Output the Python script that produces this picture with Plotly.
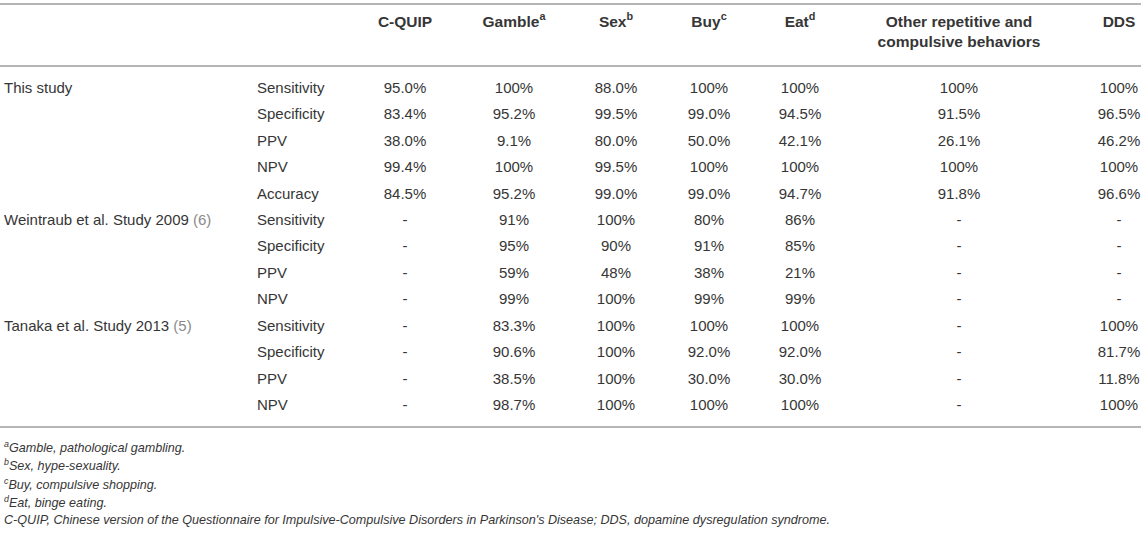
import plotly.graph_objects as go

# Table contents
headers = ["C-QUIP", "Gamble<sup>a</sup>", "Sex<sup>b</sup>", "Buy<sup>c</sup>",
           "Eat<sup>d</sup>", "Other repetitive and<br>compulsive behaviors", "DDS"]
studies = ["This study", "", "", "", "",
           "Weintraub et al. Study 2009 <span style='color:#8a8a8a'>(6)</span>", "", "", "",
           "Tanaka et al. Study 2013 <span style='color:#8a8a8a'>(5)</span>", "", "", ""]
metrics = ["Sensitivity", "Specificity", "PPV", "NPV", "Accuracy",
           "Sensitivity", "Specificity", "PPV", "NPV",
           "Sensitivity", "Specificity", "PPV", "NPV"]

c_quip = ["95.0%", "83.4%", "38.0%", "99.4%", "84.5%", "-", "-", "-", "-", "-", "-", "-", "-"]
gamble = ["100%", "95.2%", "9.1%", "100%", "95.2%", "91%", "95%", "59%", "99%",
          "83.3%", "90.6%", "38.5%", "98.7%"]
sex = ["88.0%", "99.5%", "80.0%", "99.5%", "99.0%", "100%", "90%", "48%", "100%",
       "100%", "100%", "100%", "100%"]
buy = ["100%", "99.0%", "50.0%", "100%", "99.0%", "80%", "91%", "38%", "99%",
       "100%", "92.0%", "30.0%", "100%"]
eat = ["100%", "94.5%", "42.1%", "100%", "94.7%", "86%", "85%", "21%", "99%",
       "100%", "92.0%", "30.0%", "100%"]
other = ["100%", "91.5%", "26.1%", "100%", "91.8%", "-", "-", "-", "-", "-", "-", "-", "-"]
dds = ["100%", "96.5%", "46.2%", "100%", "96.6%", "-", "-", "-", "-",
       "100%", "81.7%", "11.8%", "100%"]

footnotes = [
    "<sup>a</sup>Gamble, pathological gambling.",
    "<sup>b</sup>Sex, hype-sexuality.",
    "<sup>c</sup>Buy, compulsive shopping.",
    "<sup>d</sup>Eat, binge eating.",
    "C-QUIP, Chinese version of the Questionnaire for Impulsive-Compulsive Disorders "
    "in Parkinson's Disease; DDS, dopamine dysregulation syndrome.",
]

# Layout in page pixels (axes map 1:1 onto the page)
W, H = 1145, 536
col_x = [405, 514, 616, 709, 800, 959, 1119]
row_y0, row_step = 89, 26.45
rows_y = [row_y0 + i * row_step for i in range(len(metrics))]
text_color = "#363636"
family = "Liberation Sans, Arial, sans-serif"
font = dict(family=family, size=15, color=text_color)

fig = go.Figure()

# study and metric labels (left aligned)
fig.add_trace(go.Scatter(x=[4] * len(studies), y=rows_y, text=studies,
                         mode="text", textposition="middle right", textfont=font))
fig.add_trace(go.Scatter(x=[257] * len(metrics), y=rows_y, text=metrics,
                         mode="text", textposition="middle right", textfont=font))

# value columns
for x, col in zip(col_x, [c_quip, gamble, sex, buy, eat, other, dds]):
    fig.add_trace(go.Scatter(x=[x] * len(col), y=rows_y, text=col,
                             mode="text", textposition="middle center", textfont=font))

# header row
header_text = [f"<b>{h}</b>" for h in headers]
fig.add_trace(go.Scatter(x=col_x, y=[15] * len(headers), text=header_text,
                         mode="text", textposition="bottom center",
                         textfont=dict(family=family, size=15.5, color=text_color)))

fig.update_traces(hoverinfo="skip")

# rules
for y in [4, 66, 427]:
    fig.add_shape(type="line", x0=0, x1=1141, y0=y, y1=y,
                  line=dict(color="#b5b5b5", width=2))

# footnotes
for i, note in enumerate(footnotes):
    fig.add_annotation(x=2, y=447 + i * 18.3, text=f"<i>{note}</i>",
                       showarrow=False, xanchor="left", yanchor="middle",
                       font=dict(family=family, size=12.6, color=text_color))

fig.update_layout(
    width=W, height=H,
    margin=dict(l=0, r=0, t=0, b=0),
    plot_bgcolor="white", paper_bgcolor="white",
    showlegend=False, hovermode=False,
    xaxis=dict(range=[0, W], visible=False, fixedrange=True),
    yaxis=dict(range=[H, 0], visible=False, fixedrange=True),
)

# drop the default 8px page margin so the figure fills the window
fig.write_html("out.html", config={"displayModeBar": False},
               post_script="document.body.style.margin='0';")
